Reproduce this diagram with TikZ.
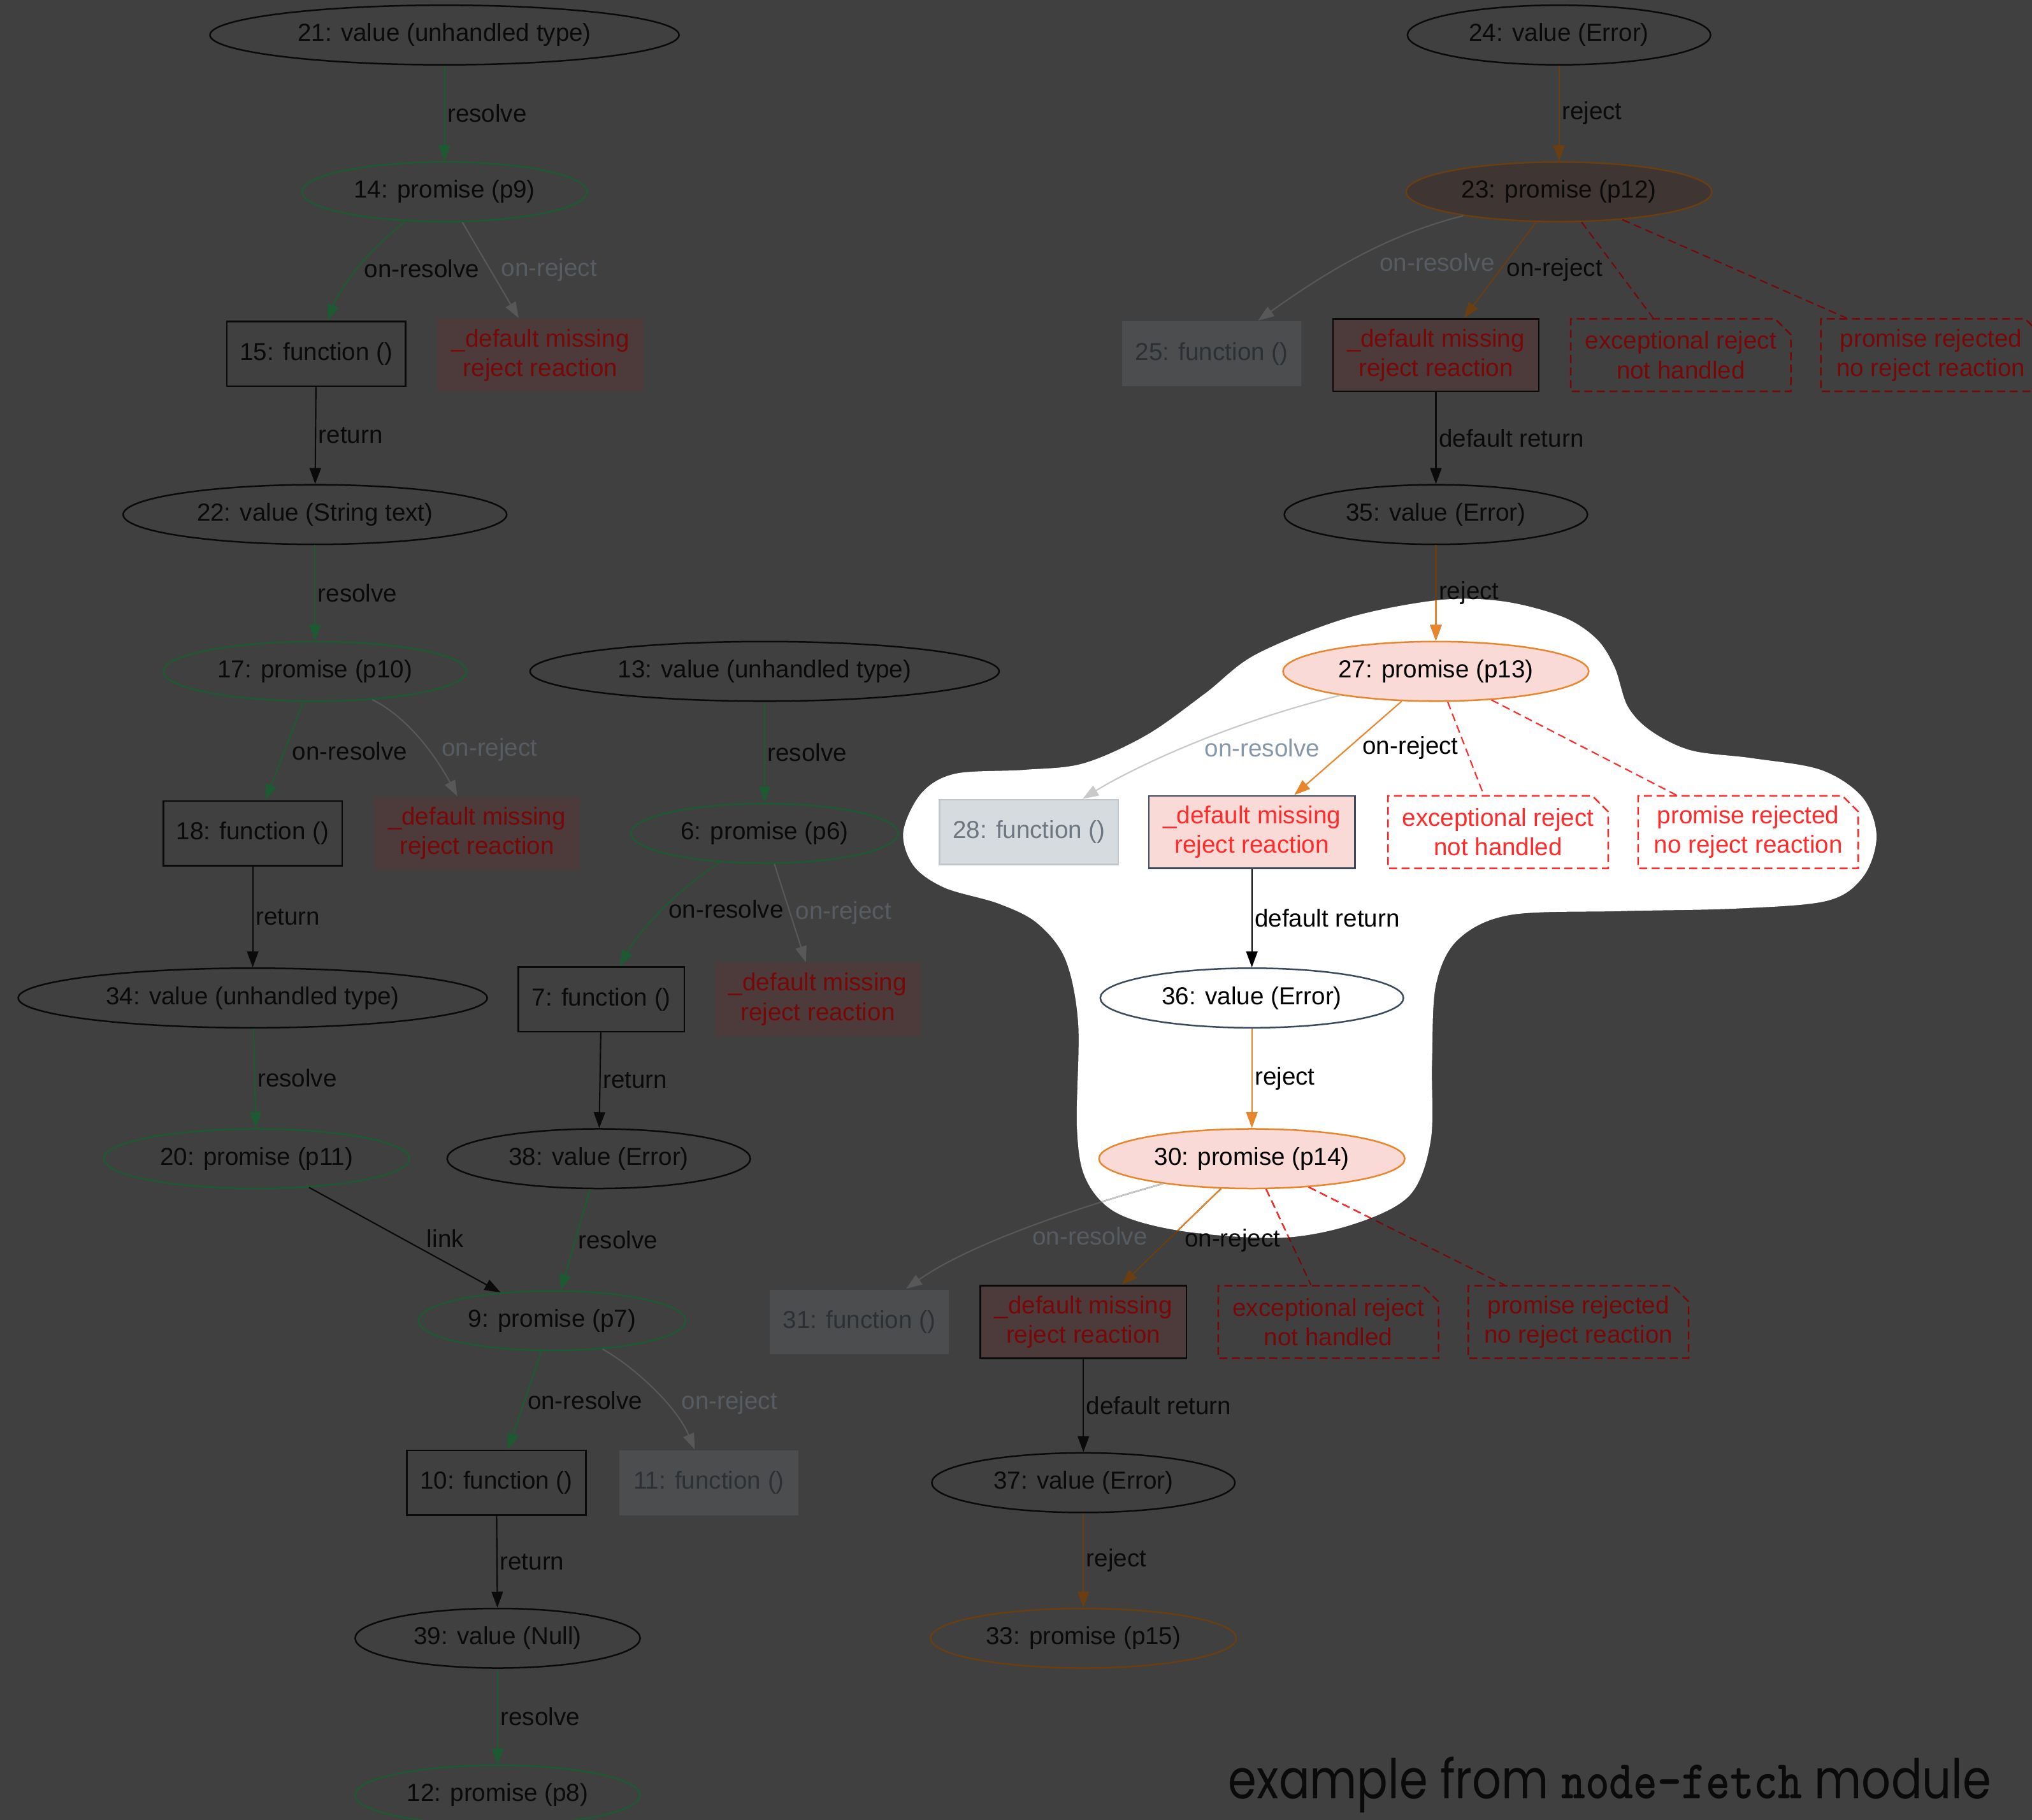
\documentclass[tikz,border=0pt]{standalone}
\usepackage{fontspec}
\usepackage{graphicx}
\setmainfont{Liberation Sans}
\newfontfamily\poppins{Poppins}
\newfontfamily\capmono{lmmonolt10-bold.otf}
\usetikzlibrary{shapes.geometric,shapes.misc,arrows.meta}

% dimmed part of the graph
\definecolor{bgdark}{HTML}{404040}
\definecolor{inkdim}{HTML}{0A0A0A}
\definecolor{greendim}{HTML}{1C5A32}
\definecolor{orangedim}{HTML}{6B3E12}
\definecolor{reddim}{HTML}{780808}
\definecolor{graydim}{HTML}{585858}
\definecolor{graylbldim}{HTML}{575C62}
\definecolor{grayfilldim}{HTML}{4B4D4F}
\definecolor{graytextdim}{HTML}{2C3034}
\definecolor{missfilldim}{HTML}{4D3A3A}
\definecolor{pinkdim}{HTML}{3F3533}
% highlighted part
\definecolor{orangebr}{HTML}{E8862E}
\definecolor{pinkbr}{HTML}{F9DAD6}
\definecolor{redbr}{HTML}{FF2B2B}
\definecolor{slatebr}{HTML}{3A4A5C}
\definecolor{grayfillbr}{HTML}{D6DBDF}
\definecolor{graylinebr}{HTML}{C2C7CB}
\definecolor{graytextbr}{HTML}{6C7782}
\definecolor{grayedgebr}{HTML}{C9C9C9}
\definecolor{graylblbr}{HTML}{8797A9}

\newcommand\gvfont{\fontsize{10.8}{13}\selectfont}
\newcommand\blobpath{plot[smooth cycle, tension=0.55] coordinates {
  (1110,463) (1160,464) (1206,476) (1232,493) (1246,515) (1256,545) (1274,564)
  (1305,579) (1352,585) (1405,594) (1437,615) (1448,645) (1438,676) (1410,695)
  (1340,701) (1250,703) (1165,706) (1125,725) (1108,760) (1105,820) (1104,880)
  (1088,922) (1046,944) (989,955) (913,950) (862,936) (838,910) (831,870)
  (832,790) (822,740) (800,712) (770,697) (729,685) (705,668) (697,642)
  (711,612) (737,597) (790,594) (836,589) (885,567) (930,535) (969,505) (1039,477)}}

\tikzset{
  >={Triangle[length=7pt,width=5pt]},
  gvnode/.style={font=\gvfont, inner sep=0pt, line width=0.7pt, text=inkdim},
  valnode/.style={gvnode, ellipse, draw=inkdim, minimum height=0.92cm},
  promnode/.style={valnode, draw=greendim},
  fnbox/.style={gvnode, rectangle, draw=inkdim, minimum width=2.76cm, minimum height=1cm},
  deadfn/.style={fnbox, draw=none, fill=grayfilldim, text=graytextdim},
  missbox/.style={gvnode, rectangle, align=center, fill=missfilldim, text=reddim,
    minimum width=3.18cm, minimum height=1.12cm},
  notebox/.style={gvnode, chamfered rectangle, chamfered rectangle corners=north east,
    chamfered rectangle sep=3.5pt, draw=#1, text=#1, dash pattern=on 3.5pt off 2pt,
    align=center, minimum width=3.4cm, minimum height=1.12cm,
    path picture={\draw[#1, line width=0.6pt]
      ([xshift=-3.5pt]path picture bounding box.north east) |-
      ([yshift=-3.5pt]path picture bounding box.north east);}},
  arr/.style={->, line width=0.6pt},
  resolvearr/.style={arr, draw=greendim},
  rejectarr/.style={arr, draw=orangedim},
  returnarr/.style={arr, draw=inkdim},
  offarr/.style={arr, draw=graydim},
  notelink/.style={line width=0.6pt, draw=reddim, dash pattern=on 3.5pt off 2pt},
  lbl/.style={font=\gvfont, text=inkdim, anchor=west, inner sep=1pt},
  offlbl/.style={lbl, text=graylbldim},
}

\begin{document}
\begin{tikzpicture}[x=0.02cm, y=-0.02cm]
\useasboundingbox (0,0) rectangle (1568,1404);
\fill[bgdark] (0,0) rectangle (1568,1404);
\fill[white] \blobpath;

% left chains
\node[valnode, minimum width=7.24cm] (n21) at (343,27) {21: value (unhandled type)};
\node[promnode, minimum width=4.4cm] (n14) at (343,148) {14: promise (p9)};
\node[fnbox] (n15) at (244,273) {15: function ()};
\node[missbox] (dmr1) at (417,274) {\_default missing\\reject reaction};
\node[valnode, minimum width=5.92cm] (n22) at (243,397) {22: value (String text)};
\node[promnode, minimum width=4.68cm] (n17) at (243,518) {17: promise (p10)};
\node[fnbox] (n18) at (195,643) {18: function ()};
\node[missbox] (dmr2) at (368,643) {\_default missing\\reject reaction};
\node[valnode, minimum width=7.24cm] (n34) at (195,770) {34: value (unhandled type)};
\node[promnode, minimum width=4.72cm] (n20) at (198,894) {20: promise (p11)};

\node[valnode, minimum width=7.24cm] (n13) at (590,518) {13: value (unhandled type)};
\node[promnode, minimum width=4.12cm] (n6) at (590,643) {6: promise (p6)};
\node[fnbox, minimum width=2.56cm] (n7) at (464,771) {7: function ()};
\node[missbox] (dmr3) at (631,771) {\_default missing\\reject reaction};
\node[valnode, minimum width=4.68cm] (n38) at (462,894) {38: value (Error)};
\node[promnode, minimum width=4.12cm] (n9) at (426,1019) {9: promise (p7)};
\node[fnbox] (n10) at (383,1144) {10: function ()};
\node[deadfn] (n11) at (547,1144) {11: function ()};
\node[valnode, minimum width=4.4cm] (n39) at (384,1264) {39: value (Null)};
\node[promnode, minimum width=4.4cm] (n12) at (384,1385) {12: promise (p8)};

% right chain
\node[valnode, minimum width=4.68cm] (n24) at (1203,27) {24: value (Error)};
\node[promnode, minimum width=4.72cm, draw=orangedim, fill=pinkdim] (n23) at (1203,148) {23: promise (p12)};
\node[deadfn] (n25) at (935,273) {25: function ()};
\node[missbox, draw=inkdim] (dmr4) at (1108,274) {\_default missing\\reject reaction};
\node[notebox=reddim] (exc1) at (1297,274) {exceptional reject\\not handled};
\node[notebox=reddim] (prr1) at (1490,274) {promise rejected\\no reject reaction};
\node[valnode, minimum width=4.68cm] (n35) at (1108,397) {35: value (Error)};

% highlighted part
\node[promnode, minimum width=4.72cm, draw=orangebr, fill=pinkbr, text=black] (n27) at (1108,518) {27: promise (p13)};
\node[fnbox, fill=grayfillbr, draw=graylinebr, text=graytextbr] (n28) at (794,642) {28: function ()};
\node[missbox, fill=pinkbr, draw=slatebr, text=redbr] (dmr5) at (966,642) {\_default missing\\reject reaction};
\node[notebox=redbr, fill=white] (exc2) at (1156,642) {exceptional reject\\not handled};
\node[notebox=redbr, fill=white] (prr2) at (1349,642) {promise rejected\\no reject reaction};
\node[valnode, minimum width=4.68cm, draw=slatebr, fill=white, text=black] (n36) at (966,770) {36: value (Error)};
\node[promnode, minimum width=4.72cm, draw=orangebr, fill=pinkbr, text=black] (n30) at (966,894) {30: promise (p14)};

\node[deadfn] (n31) at (663,1020) {31: function ()};
\node[missbox, draw=inkdim] (dmr6) at (836,1020) {\_default missing\\reject reaction};
\node[notebox=reddim] (exc3) at (1025,1020) {exceptional reject\\not handled};
\node[notebox=reddim] (prr3) at (1218,1020) {promise rejected\\no reject reaction};
\node[valnode, minimum width=4.68cm] (n37) at (836,1144) {37: value (Error)};
\node[promnode, minimum width=4.72cm, draw=orangedim] (n33) at (836,1264) {33: promise (p15)};

\node[anchor=base east, inner sep=0pt, text=inkdim, font=\poppins\fontsize{24}{28}\selectfont]
  (caption) at (1537,1388) {\scalebox{0.84}[1]{example from {\capmono node-fetch} module}};

% edges, left
\draw[resolvearr] (n21) -- node[lbl] {resolve} (n14);
\draw[resolvearr] (n14) .. controls (285,192) and (262,222) .. (n15) node[lbl, pos=0.5, xshift=0.06cm] {on-resolve};
\draw[offarr] (n14) -- node[offlbl, xshift=0.12cm] {on-reject} (dmr1);
\draw[returnarr] (n15) -- node[lbl] {return} (n22);
\draw[resolvearr] (n22) -- node[lbl] {resolve} (n17);
\draw[resolvearr] (n17) -- node[lbl, xshift=0.08cm] {on-resolve} (n18);
\draw[offarr] (n17) .. controls (318,555) and (340,590) .. (dmr2) node[offlbl, pos=0.56, xshift=0.16cm] {on-reject};
\draw[returnarr] (n18) -- node[lbl] {return} (n34);
\draw[resolvearr] (n34) -- node[lbl] {resolve} (n20);
\draw[returnarr] (n20) -- node[lbl, pos=0.6, anchor=south west] {link} (n9);
\draw[resolvearr] (n13) -- node[lbl] {resolve} (n6);
\draw[resolvearr] (n6) .. controls (525,685) and (495,715) .. (n7) node[lbl, pos=0.5, xshift=0.04cm] {on-resolve};
\draw[offarr] (n6) -- node[offlbl, xshift=0.04cm] {on-reject} (dmr3);
\draw[returnarr] (n7) -- node[lbl] {return} (n38);
\draw[resolvearr] (n38) -- node[lbl] {resolve} (n9);
\draw[resolvearr] (n9) -- node[lbl] {on-resolve} (n10);
\draw[offarr] (n9) .. controls (490,1055) and (522,1085) .. (n11) node[offlbl, pos=0.62, xshift=0.2cm] {on-reject};
\draw[returnarr] (n10) -- node[lbl] {return} (n39);
\draw[resolvearr] (n39) -- node[lbl] {resolve} (n12);

% edges, right
\draw[rejectarr] (n24) -- node[lbl] {reject} (n23);
\draw[offarr] (n23) .. controls (1075,180) and (1030,205) .. (n25) node[offlbl, pos=0.45, yshift=-0.2cm, xshift=0.06cm] {on-resolve};
\draw[rejectarr] (n23) -- node[lbl, xshift=0.06cm] {on-reject} (dmr4);
\draw[notelink] (n23) -- (exc1);
\draw[notelink] (n23) -- (prr1);
\draw[returnarr] (dmr4) -- node[lbl] {default return} (n35);
\draw[rejectarr] (n35) -- node[lbl] {reject} (n27);

\draw[arr, draw=grayedgebr] (n27) .. controls (940,560) and (870,595) .. (n28) node[lbl, text=graylblbr, pos=0.5, xshift=0.3cm] {on-resolve};
\draw[arr, draw=orangebr] (n27) -- node[lbl, text=black, xshift=0.18cm] {on-reject} (dmr5);
\draw[notelink, draw=redbr] (n27) -- (exc2);
\draw[notelink, draw=redbr] (n27) -- (prr2);
\draw[arr, draw=black] (dmr5) -- node[lbl, text=black] {default return} (n36);
\draw[arr, draw=orangebr] (n36) -- node[lbl, text=black] {reject} (n30);

\draw[offarr] (n30) .. controls (820,935) and (745,962) .. (n31) node[offlbl, pos=0.5, xshift=0.16cm, yshift=-0.08cm] {on-resolve};
\draw[rejectarr] (n30) -- node[lbl, xshift=0.16cm, yshift=-0.06cm] {on-reject} (dmr6);
\draw[notelink] (n30) -- (exc3);
\draw[notelink] (n30) -- (prr3);
\draw[returnarr] (dmr6) -- node[lbl] {default return} (n37);
\draw[rejectarr] (n37) -- node[lbl] {reject} (n33);

% bright pieces of edges crossing the highlight
\begin{scope}
  \clip \blobpath;
  \draw[arr, draw=orangebr] (n35) -- (n27);
  \draw[arr, draw=grayedgebr] (n30) .. controls (820,935) and (745,962) .. (n31);
  \draw[arr, draw=orangebr] (n30) -- (dmr6);
  \draw[notelink, draw=redbr] (n30) -- (exc3);
  \draw[notelink, draw=redbr] (n30) -- (prr3);
\end{scope}
\end{tikzpicture}
\end{document}
